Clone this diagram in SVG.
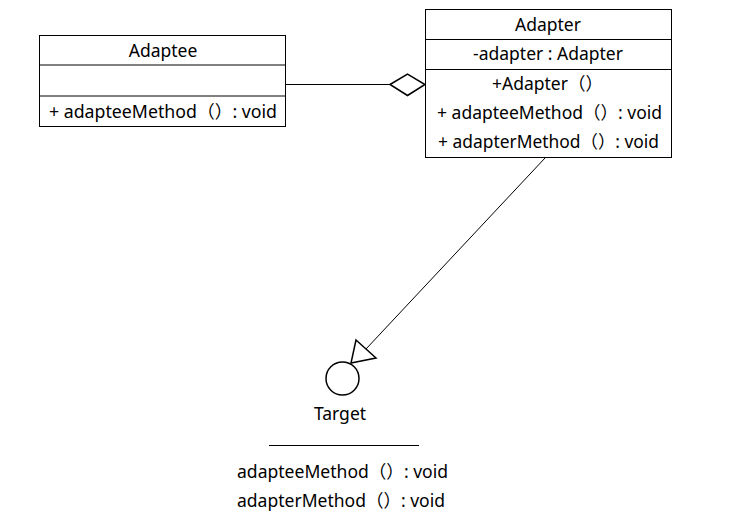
<svg xmlns="http://www.w3.org/2000/svg" width="747" height="526" viewBox="0 0 747 526">
<style>
.box{fill:#fff;stroke:#000;stroke-width:1}
.ln{stroke:#000;stroke-width:1;fill:none}
text{font-family:"Noto Sans","Noto Sans CJK SC",sans-serif;font-size:17.5px;fill:#000}
.c{text-anchor:middle}
</style>
<rect width="747" height="526" fill="#fff"/>
<g id="connectors">
<line class="ln" x1="285" y1="84.5" x2="390" y2="84.5"/>
<polygon points="390,84.5 407.5,74 425,84.5 407.5,95.5" fill="#fff" stroke="#000" stroke-width="1.5"/>
<line class="ln" x1="545" y1="158" x2="366" y2="349"/>
<polygon points="356,340 376,358 351,363" fill="#fff" stroke="#000" stroke-width="1.5"/>
</g>
<g id="adaptee">
<rect class="box" x="39.5" y="35.5" width="246" height="91"/>
<line class="ln" x1="39.5" y1="65" x2="285.5" y2="65"/>
<line class="ln" x1="39.5" y1="96" x2="285.5" y2="96"/>
<text class="c" x="163" y="57">Adaptee</text>
<text x="49" y="118" textLength="228" lengthAdjust="spacingAndGlyphs">+ adapteeMethod（）: void</text>
</g>
<g id="adapter">
<rect class="box" x="425.5" y="9.5" width="246" height="148"/>
<line class="ln" x1="425.5" y1="39.5" x2="671.5" y2="39.5"/>
<line class="ln" x1="425.5" y1="69.5" x2="671.5" y2="69.5"/>
<text class="c" x="548" y="31">Adapter</text>
<text class="c" x="548" y="60">-adapter : Adapter</text>
<text x="492" y="90">+Adapter（）</text>
<text x="437" y="119" textLength="225" lengthAdjust="spacingAndGlyphs">+ adapteeMethod（）: void</text>
<text x="438" y="148" textLength="221" lengthAdjust="spacingAndGlyphs">+ adapterMethod（）: void</text>
</g>
<g id="target">
<circle cx="342.5" cy="378.5" r="16.5" fill="#fff" stroke="#000" stroke-width="1.5"/>
<text class="c" x="340" y="420">Target</text>
<line class="ln" x1="269" y1="445.5" x2="419" y2="445.5"/>
<text x="237" y="478" textLength="211" lengthAdjust="spacingAndGlyphs">adapteeMethod（）: void</text>
<text x="237" y="507" textLength="208" lengthAdjust="spacingAndGlyphs">adapterMethod（）: void</text>
</g>
</svg>
